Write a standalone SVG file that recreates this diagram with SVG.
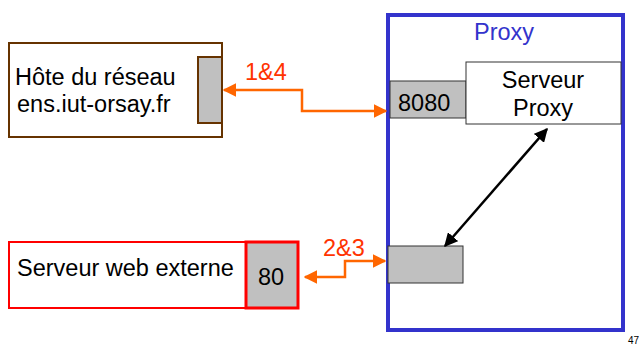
<svg xmlns="http://www.w3.org/2000/svg" width="639" height="349" viewBox="0 0 639 349">
<defs>
<marker id="ao" viewBox="0 0 10 10" refX="9" refY="5" markerWidth="5.5" markerHeight="5.5" orient="auto-start-reverse" markerUnits="strokeWidth"><path d="M0,0 L10,5 L0,10 z" fill="#ff6600"/></marker>
<marker id="ab" viewBox="0 0 10 10" refX="9" refY="5" markerWidth="5.5" markerHeight="5.5" orient="auto-start-reverse" markerUnits="strokeWidth"><path d="M0,0 L10,5 L0,10 z" fill="#000"/></marker>
<style>
text{font-family:"Liberation Sans",Arial,sans-serif;font-size:23.5px;fill:#000}
.gray{fill:#c0c0c0}
.lbl{fill:#ff3300}
.ol{fill:none;stroke:#ff6600;stroke-width:2.5}
</style>
</defs>
<g id="host">
<rect x="9" y="43" width="213" height="94" fill="#fff" stroke="#663300" stroke-width="2"/>
<rect x="198" y="57" width="24" height="66" class="gray" stroke="#663300" stroke-width="2"/>
<text x="15" y="85">Hôte du réseau</text>
<text x="17" y="112">ens.iut-orsay.fr</text>
</g>
<g id="proxy">
<rect x="388" y="15" width="235" height="315" fill="#fff" stroke="#3333cc" stroke-width="4"/>
<text x="504" y="40" text-anchor="middle" style="fill:#3333cc">Proxy</text>
</g>
<g id="port8080">
<rect x="390" y="81" width="76" height="37" class="gray" stroke="#333" stroke-width="1"/>
<text x="398" y="111">8080</text>
</g>
<g id="serveurProxy">
<rect x="466" y="62" width="155" height="62" fill="#fff" stroke="#333" stroke-width="1"/>
<text x="543" y="88" text-anchor="middle">Serveur</text>
<text x="543" y="116" text-anchor="middle">Proxy</text>
</g>
<g id="portExt">
<rect x="388" y="246" width="75" height="37" class="gray" stroke="#333" stroke-width="1"/>
</g>
<g id="web">
<rect x="9" y="242" width="289" height="66" fill="#fff" stroke="#ff0000" stroke-width="2"/>
<rect x="246" y="242" width="52" height="66" class="gray" stroke="#ff0000" stroke-width="3"/>
<text x="17" y="276">Serveur web externe</text>
<text x="271" y="285" text-anchor="middle">80</text>
</g>
<g id="connectors">
<path class="ol" d="M386,111 H302 V90 H224" marker-start="url(#ao)" marker-end="url(#ao)"/>
<path class="ol" d="M305,277 H345 V261 H385" marker-start="url(#ao)" marker-end="url(#ao)"/>
<line x1="547" y1="129" x2="445" y2="246" stroke="#000" stroke-width="2.5" marker-start="url(#ab)" marker-end="url(#ab)"/>
<text x="245" y="80" class="lbl">1&amp;4</text>
<text x="323" y="256" class="lbl">2&amp;3</text>
</g>
<text x="628" y="344" style="font-size:10px">47</text>
</svg>
